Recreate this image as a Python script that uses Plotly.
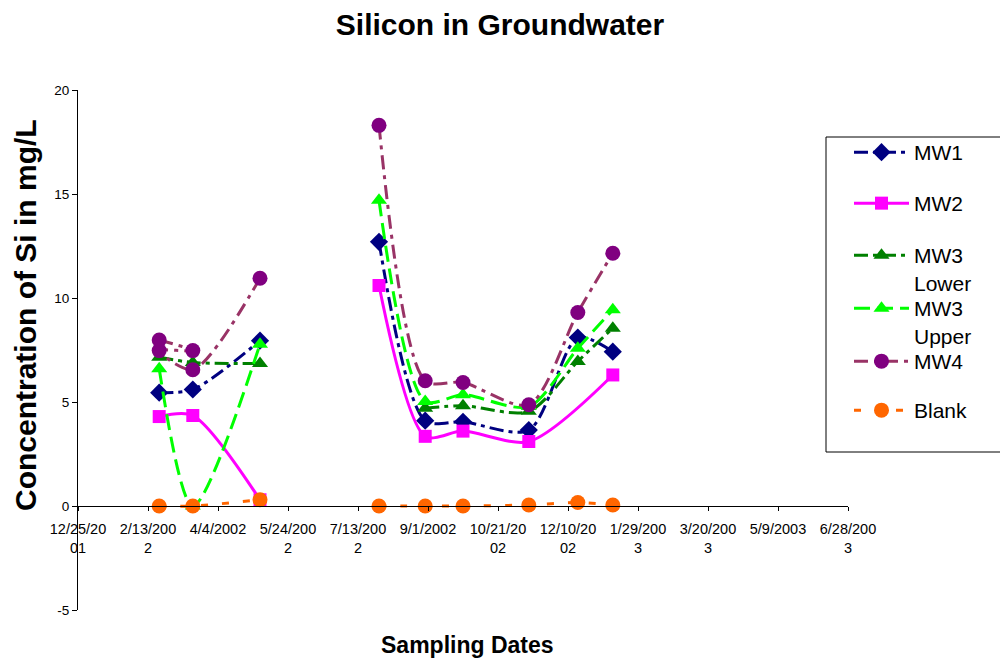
import plotly.graph_objects as go

# ---- data ----
dates = ["2002-02-21", "2002-03-17", "2002-05-04", None,
         "2002-07-28", "2002-08-30", "2002-09-26", "2002-11-12",
         "2002-12-17", "2003-01-11"]

mw1 = [5.45, 5.6, 7.95, None, 12.7, 4.1, 4.05, 3.65, 8.1, 7.42]

mw2_dates = ["2002-02-21", "2002-03-17", "2002-05-04", None,
             "2002-07-28", "2002-08-30", "2002-09-26", "2002-11-12",
             "2003-01-11"]
mw2 = [4.3, 4.35, 0.3, None, 10.6, 3.35, 3.6, 3.1, 6.3]

mw3l_dates = ["2002-02-21", "2002-03-17", "2002-05-04", None,
              "2002-08-30", "2002-09-26", "2002-11-12",
              "2002-12-17", "2003-01-11"]
mw3_lower = [7.15, 6.9, 6.85, None, 4.7, 4.82, 4.55, 6.95, 8.55]

mw3_upper = [6.6, 0.0, 7.78, None, 14.7, 5.03, 5.35, 4.78, 7.58, 9.43]

mw4_dates = ["2002-02-21", "2002-03-17", "2002-02-21", "2002-03-17",
             "2002-05-04", None, "2002-07-28", "2002-08-30",
             "2002-09-26", "2002-11-12", "2002-12-17", "2003-01-11"]
mw4 = [7.98, 7.47, 7.47, 6.55, 10.95, None, 18.3, 6.02, 5.94, 4.87, 9.3, 12.15]

blank = [0.0, 0.0, 0.3, None, 0.0, 0.0, 0.0, 0.05, 0.17, 0.05]

tick_dates = ["2001-12-25", "2002-02-13", "2002-04-04", "2002-05-24",
              "2002-07-13", "2002-09-01", "2002-10-21", "2002-12-10",
              "2003-01-29", "2003-03-20", "2003-05-09", "2003-06-28"]
tick_text = ["12/25/20<br>01", "2/13/200<br>2", "4/4/2002", "5/24/200<br>2",
             "7/13/200<br>2", "9/1/2002", "10/21/20<br>02", "12/10/20<br>02",
             "1/29/200<br>3", "3/20/200<br>3", "5/9/2003", "6/28/200<br>3"]

y_ticks = [-5, 0, 5, 10, 15, 20]
y_tick_text = ["-5", "0", "5", "10", "15", "20"]
grid_ticks = [5, 10, 15, 20]

FONT = "Liberation Sans, Arial, sans-serif"

# page has an 8px body margin: plot area lands at x 78..848, y 90..610
PL, PT, PW, PH = 78, 90, 770, 520


def px_x(x):
    return (x - PL) / PW


def px_y(y):
    return (PT + PH - y) / PH


fig = go.Figure()

legend_ids = ["legend", "legend2", "legend3", "legend4", "legend5", "legend6"]
legend_rows = [153, 204, 256, 309, 362, 411]   # first text line centres


def add(i, name, x, y, color, mcolor, symbol, dash, size=13, width=3):
    fig.add_trace(go.Scatter(
        x=x, y=y, name=name, legend=legend_ids[i], mode="lines+markers",
        connectgaps=False,
        line=dict(color=color, width=width, dash=dash, shape="spline", smoothing=0.8),
        marker=dict(color=mcolor, symbol=symbol, size=size, line=dict(width=0)),
    ))


add(0, "MW1", dates, mw1, "#000080", "#000080", "diamond", "14px,5px,4px,5px", size=14)
add(1, "MW2", mw2_dates, mw2, "#FF00FF", "#FF00FF", "square", "solid", size=13)
add(2, "MW3<br>Lower", mw3l_dates, mw3_lower, "#008000", "#008000", "triangle-up",
    "14px,5px,4px,5px", size=14)
add(3, "MW3<br>Upper", dates, mw3_upper, "#00FF00", "#00FF00", "triangle-up",
    "16px,7px", size=14)
add(4, "MW4", mw4_dates, mw4, "#993366", "#800080", "circle", "14px,6px,4px,6px", size=15)
add(5, "Blank", dates, blank, "#FF6600", "#FF6600", "circle", "7px,14px", size=15)

layout_legends = {}
for lid, row in zip(legend_ids, legend_rows):
    layout_legends[lid] = dict(
        x=px_x(849), y=px_y(row - 21), xanchor="left", yanchor="top",
        bgcolor="rgba(0,0,0,0)", borderwidth=0,
        font=dict(size=21, family=FONT), itemwidth=55, valign="top",
    )

fig.update_layout(
    width=1008, height=671,
    margin=dict(l=PL - 8, r=1008 - (PL - 8) - PW, t=PT - 8, b=671 - (PT - 8) - PH),
    paper_bgcolor="white", plot_bgcolor="white",
    font=dict(family=FONT, color="black"),
    showlegend=True,
    title=dict(text="<b>Silicon in Groundwater</b>", font=dict(size=30, family=FONT),
               x=492 / 1008, xref="container", xanchor="center",
               y=1 - 16 / 671, yref="container", yanchor="middle"),
    xaxis=dict(
        type="date", range=["2001-12-25", "2003-06-28"],
        tickvals=tick_dates, ticktext=tick_text,
        tickfont=dict(size=14.5, family=FONT),
        ticks="outside", ticklen=4, tickcolor="black", tickwidth=1,
        ticklabelstandoff=6,
        showline=True, linecolor="black", linewidth=1,
        showgrid=False, zeroline=False,
        anchor="free", position=0.2, automargin=False,
    ),
    yaxis=dict(
        range=[-5, 20], tickvals=y_ticks, ticktext=y_tick_text,
        tickfont=dict(size=13.5, family=FONT),
        ticks="outside", ticklen=5, tickcolor="black",
        showline=True, linecolor="black", linewidth=1,
        showgrid=False, zeroline=False, automargin=False,
    ),
    yaxis2=dict(
        range=[-5, 20], tickvals=grid_ticks, overlaying="y", anchor="x",
        showgrid=True, gridcolor="#000000", gridwidth=1,
        showticklabels=False, ticks="", showline=False, zeroline=False,
    ),
    shapes=[
        dict(type="rect", xref="paper", yref="paper",
             x0=px_x(826), x1=px_x(1005), y0=px_y(452), y1=px_y(137),
             fillcolor="white", line=dict(color="black", width=1), layer="above"),
    ],
    annotations=[
        dict(text="<b>Sampling Dates</b>", xref="paper", yref="paper",
             x=px_x(467), y=px_y(645), showarrow=False,
             xanchor="center", yanchor="middle", font=dict(size=23, family=FONT)),
        dict(text="<b>Concentration of Si in mg/L</b>", xref="paper", yref="paper",
             x=px_x(25), y=px_y(315), showarrow=False, textangle=-90,
             xanchor="center", yanchor="middle", font=dict(size=30, family=FONT)),
    ],
    **layout_legends,
)

fig.write_html("out.html")
